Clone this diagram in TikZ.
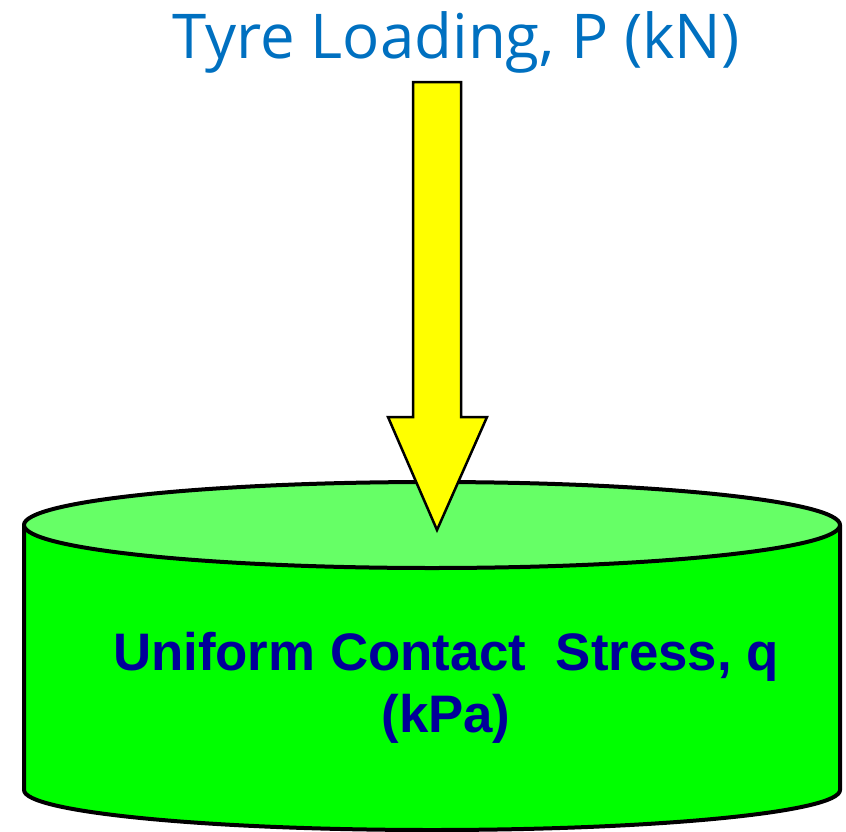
\documentclass[tikz,border=0pt]{standalone}
\usepackage{fontspec}
\setmainfont{Liberation Sans}
\newfontfamily\handfont{Open Sans}
\usetikzlibrary{positioning}

\definecolor{loadblue}{HTML}{0070C0}
\definecolor{stressblue}{HTML}{000099}
\definecolor{tyretop}{HTML}{66FF66}
\definecolor{tyreside}{HTML}{00FF00}
\definecolor{loadyellow}{HTML}{FFFF00}

\tikzset{
  tyreline/.style={draw=black,line width=4bp,line join=round},
  loadarrow/.style={draw=black,line width=2.5bp,fill=loadyellow,line join=miter},
}

\begin{document}
\begin{tikzpicture}[x=1bp,y=-1bp]
\useasboundingbox (0,0) rectangle (846,832);
%% contact area drawn as a flat cylinder
\filldraw [tyreline,fill=tyreside] (24,525) -- (24,790)
  arc [start angle=180,end angle=0,x radius=408,y radius=40]
  -- (840,525) -- cycle;
\filldraw [tyreline,fill=tyretop] (432,525) ellipse [x radius=408,y radius=43];
%% wheel load
\filldraw [loadarrow] (413,82) -- (461,82) -- (461,417) -- (487,417)
  -- (437,530) -- (388,417) -- (413,417) -- cycle;
%% labels
\node (load_label) at (456,58) [anchor=base,text=loadblue,inner sep=0pt,
  font=\handfont\fontsize{62}{70}\selectfont] {Tyre Loading, P (kN)};
\node (stress_label) at (446,688) [align=center,text=stressblue,inner sep=0pt,
  font=\bfseries\fontsize{53}{62}\selectfont] {Uniform Contact\ \ Stress, q\\ (kPa)};
%
\end{tikzpicture}
\end{document}
